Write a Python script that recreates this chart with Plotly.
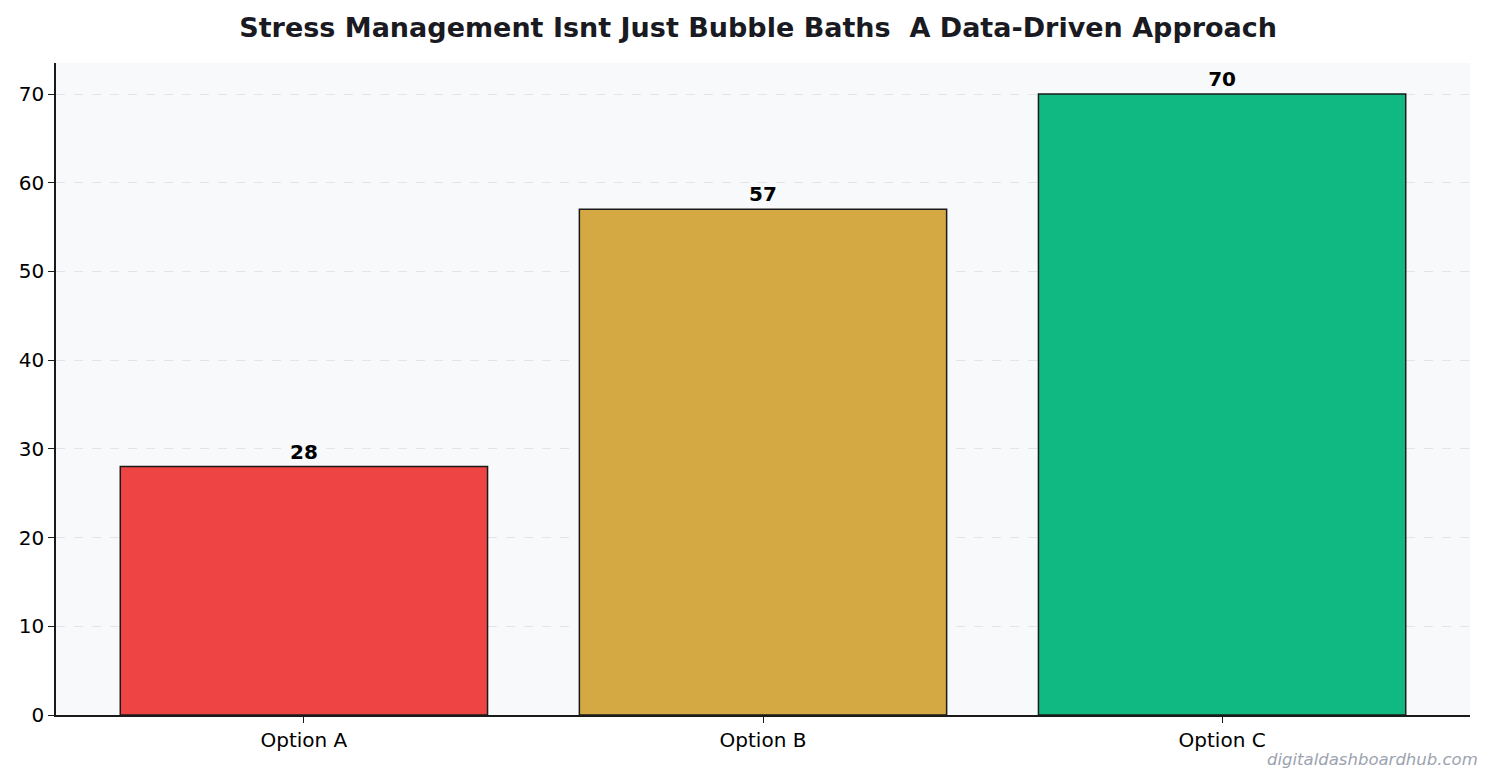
import plotly.graph_objects as go

categories = ["Option A", "Option B", "Option C"]
values = [28, 57, 70]
colors = ["#EF4444", "#D4A843", "#10B981"]

fig = go.Figure()
fig.add_trace(go.Bar(
    x=categories, y=values, width=0.8,
    marker=dict(color=colors, line=dict(color="#1a1a1a", width=1.5)),
    text=[str(v) for v in values], textposition="outside",
    textfont=dict(family="DejaVu Sans", size=20, color="#000000"),
    texttemplate="<b>%{text}</b>", cliponaxis=False,
))

# page has an 8px body margin, so the figure is a bit smaller than the window
fig.update_layout(
    width=1484, height=775,
    margin=dict(l=48, r=22, t=55, b=68),
    paper_bgcolor="white", plot_bgcolor="#F8F9FA",
    font=dict(family="DejaVu Sans", size=20, color="#000000"),
    title=dict(text="<b>Stress Management Isnt Just Bubble Baths  A Data-Driven Approach</b>",
               x=0.5055, xanchor="center", y=0.975, yanchor="middle",
               font=dict(size=27, color="#1a1a22")),
    showlegend=False, bargap=0.2,
)
fig.update_xaxes(range=[-0.54, 2.54], showline=True, linecolor="#1a1a1a", linewidth=1.5,
                 ticks="outside", ticklen=6, tickcolor="#1a1a1a", showgrid=False)
fig.update_yaxes(range=[0, 73.5], dtick=10, showline=True, linecolor="#1a1a1a", linewidth=1.5,
                 ticks="outside", ticklen=6, tickcolor="#1a1a1a",
                 gridcolor="#E2E4E8", griddash="dash", gridwidth=1.2, zeroline=False)
fig.add_annotation(text="<i>digitaldashboardhub.com</i>", xref="paper", yref="paper",
                   x=1.007, y=-0.069, xanchor="right", yanchor="middle", showarrow=False,
                   font=dict(size=16.5, color="#9CA3AF"))

fig.write_html("out.html")
